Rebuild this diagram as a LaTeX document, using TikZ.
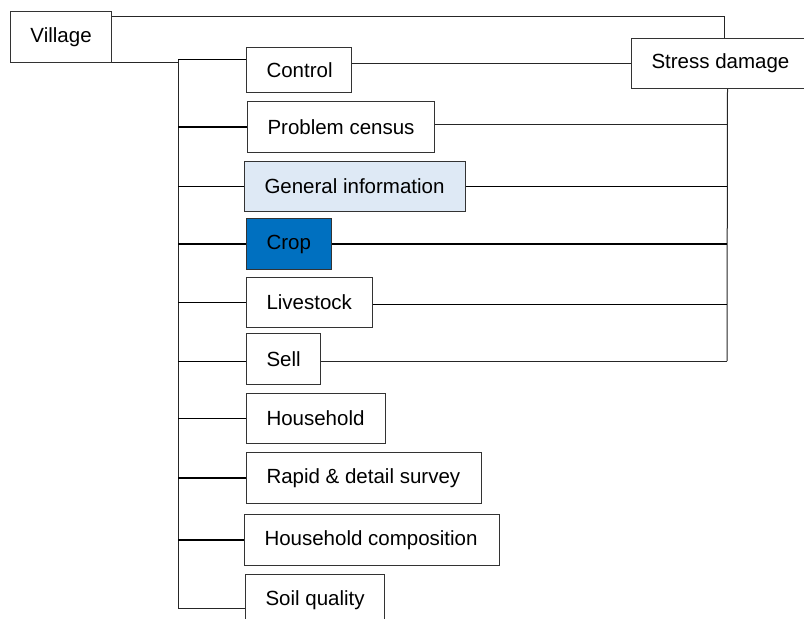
\documentclass[tikz,border=0pt]{standalone}
\usepackage{fontspec}
\setmainfont{Liberation Sans}
\definecolor{geninfo}{HTML}{DEE9F5}
\definecolor{cropblue}{HTML}{0070C0}
\tikzset{
  box/.style={draw=black!80, line width=1pt, anchor=north west, inner xsep=20pt, inner ysep=0pt,
    font=\fontsize{20.5}{24}\selectfont},
  thick line/.style={line width=1.6pt, black},
  thin line/.style={line width=1pt, black!85},
}
\newcommand\bx[7]{\node[box,#7,minimum width=#4pt,minimum height=#5pt] (#1) at (#2,#3) {\makebox[\dimexpr#4pt-40pt\relax][l]{#6}};}
\begin{document}
\begin{tikzpicture}[x=1pt,y=-1pt]
\useasboundingbox (0,0) rectangle (804,619);
\clip (0,0) rectangle (804,619);
\bx{village}{10}{11}{101}{51}{Village}{}
\bx{stress}{631}{38}{179}{50}{Stress damage}{}
\bx{control}{246}{47}{105}{45}{Control}{}
\bx{problem}{247}{101}{187}{51}{Problem census}{}
\bx{general}{244}{161}{221}{50}{General information}{fill=geninfo}
\bx{crop}{246}{218}{85}{51}{Crop}{fill=cropblue}
\bx{livestock}{246}{277}{126}{50}{Livestock}{}
\bx{sell}{246}{333}{74}{51}{Sell}{}
\bx{household}{246}{393}{139}{50}{Household}{}
\bx{rapid}{246}{452}{235}{51}{Rapid \& detail survey}{}
\bx{hcomp}{244}{514}{255}{51}{Household composition}{}
\bx{soil}{245}{574}{139}{51}{Soil quality}{}
% spine
\coordinate (spinetop) at (178,59);
\coordinate (spinebot) at (178,608);
\coordinate (rbot) at (727,361);
\draw[thin line] ([yshift=1pt]village.south east) -- ([yshift=1pt]village.south east -| spinetop);
\draw[thin line] (spinetop) -- (spinebot);
\draw[thin line] (spinebot) -- (spinebot -| soil.west);
% village to stress damage
\draw[thin line] ([yshift=-5pt]village.north east) -| ([xshift=3.5pt]stress.north);
% right vertical
\draw[thin line] ([xshift=6.5pt]stress.south) -- (rbot);
% left branches
\coordinate (cL) at ([yshift=10.5pt]control.west);
\draw[thick line] (cL -| spinetop) -- (cL);
\foreach \n in {problem,general,crop,livestock,household,rapid,hcomp}{
  \draw[thick line] (spinetop |- \n.west) -- (\n.west);
}
\coordinate (sL) at ([yshift=-2.5pt]sell.west);
\draw[thick line] (sL -| spinetop) -- (sL);
% right branches
\draw[thin line] ([yshift=6.5pt]control.east) -- (stress.west);
\draw[thin line] ([yshift=2.5pt]problem.east) -- ([yshift=2.5pt]problem.east -| rbot);
\draw[thick line] (general.east) -- (general.east -| rbot);
\draw[thick line] (crop.east) -- (crop.east -| rbot);
\draw[thick line] ([yshift=-2pt]livestock.east) -- ([yshift=-2pt]livestock.east -| rbot);
\draw[thin line] (sell.east |- rbot) -- (rbot);
\end{tikzpicture}
\end{document}
